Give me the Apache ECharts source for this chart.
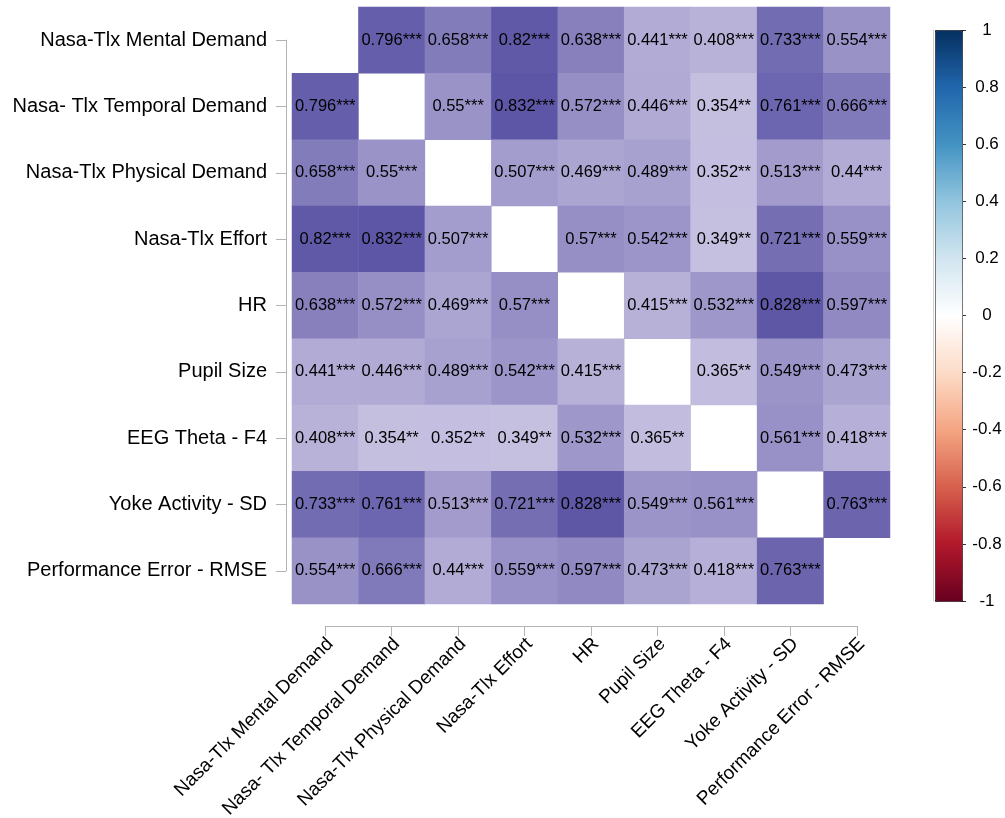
<!DOCTYPE html>
<html>
<head>
<meta charset="utf-8">
<script src="https://cdn.jsdelivr.net/npm/echarts@6/dist/echarts.min.js"></script>
<style>
html,body{margin:0;padding:0;background:#fff;}
#chart{width:1005px;height:818px;}
</style>
</head>
<body>
<div id="chart"></div>
<script>
const variables = [
  'Nasa-Tlx Mental Demand',
  'Nasa- Tlx Temporal Demand',
  'Nasa-Tlx Physical Demand',
  'Nasa-Tlx Effort',
  'HR',
  'Pupil Size',
  'EEG Theta - F4',
  'Yoke Activity - SD',
  'Performance Error - RMSE'
];
// correlation matrix (null on the diagonal)
const correlations = [
  [null, 0.796, 0.658, 0.82, 0.638, 0.441, 0.408, 0.733, 0.554],
  [0.796, null, 0.55, 0.832, 0.572, 0.446, 0.354, 0.761, 0.666],
  [0.658, 0.55, null, 0.507, 0.469, 0.489, 0.352, 0.513, 0.44],
  [0.82, 0.832, 0.507, null, 0.57, 0.542, 0.349, 0.721, 0.559],
  [0.638, 0.572, 0.469, 0.57, null, 0.415, 0.532, 0.828, 0.597],
  [0.441, 0.446, 0.489, 0.542, 0.415, null, 0.365, 0.549, 0.473],
  [0.408, 0.354, 0.352, 0.349, 0.532, 0.365, null, 0.561, 0.418],
  [0.733, 0.761, 0.513, 0.721, 0.828, 0.549, 0.561, null, 0.763],
  [0.554, 0.666, 0.44, 0.559, 0.597, 0.473, 0.418, 0.763, null]
];
// number of significance stars per cell
const significance = [
  [0, 3, 3, 3, 3, 3, 3, 3, 3],
  [3, 0, 3, 3, 3, 3, 2, 3, 3],
  [3, 3, 0, 3, 3, 3, 2, 3, 3],
  [3, 3, 3, 0, 3, 3, 2, 3, 3],
  [3, 3, 3, 3, 0, 3, 3, 3, 3],
  [3, 3, 3, 3, 3, 0, 2, 3, 3],
  [3, 2, 2, 2, 3, 2, 0, 3, 3],
  [3, 3, 3, 3, 3, 3, 3, 0, 3],
  [3, 3, 3, 3, 3, 3, 3, 3, 0]
];
const colorbarTicks = [-1, -0.8, -0.6, -0.4, -0.2, 0, 0.2, 0.4, 0.6, 0.8, 1];
const rdbu = ['#67001F', '#B2182B', '#D6604D', '#F4A582', '#FDDBC7', '#FFFFFF',
              '#D1E5F0', '#92C5DE', '#4393C3', '#2166AC', '#053061'];

const heatData = [];
for (let i = 0; i < variables.length; i++) {
  for (let j = 0; j < variables.length; j++) {
    if (correlations[i][j] !== null) {
      heatData.push([j, i, correlations[i][j], significance[i][j]]);
    }
  }
}

const G = {left: 292, top: 7, width: 598, height: 597};
const n = variables.length;
const cw = G.width / n, ch = G.height / n;
const axisGray = '#b3b3b3';
const FONT = 'Liberation Sans, Arial, Helvetica, sans-serif';
const gridBase = {outerBoundsMode: 'none', containLabel: false};

const chart = echarts.init(document.getElementById('chart'));
chart.setOption({
  animation: false,
  backgroundColor: '#fff',
  textStyle: {fontFamily: FONT},
  grid: [
    Object.assign({left: G.left, top: G.top, width: G.width, height: G.height}, gridBase),
    Object.assign({left: 935, top: 30, width: 27, height: 571}, gridBase),
    Object.assign({left: G.left + cw / 2, top: G.top, width: G.width - cw, height: G.height}, gridBase),
    Object.assign({left: G.left, top: G.top + ch / 2, width: G.width, height: G.height - ch}, gridBase),
    Object.assign({left: G.left + 5, top: G.top, width: G.width, height: G.height}, gridBase)
  ],
  xAxis: [
    {gridIndex: 0, type: 'category', data: variables, show: false},
    {gridIndex: 1, type: 'value', show: false, min: 0, max: 1},
    {
      gridIndex: 2, type: 'value', min: 0, max: n - 1, interval: 1, position: 'bottom', offset: 22,
      axisLine: {show: true, onZero: false, lineStyle: {color: axisGray, width: 1}},
      axisTick: {show: true, length: 10, lineStyle: {color: axisGray}},
      axisLabel: {show: false}, splitLine: {show: false}
    },
    {gridIndex: 3, type: 'value', show: false, min: 0, max: 1},
    {
      gridIndex: 4, type: 'category', data: variables, position: 'bottom', offset: 22,
      axisLine: {show: false}, axisTick: {show: false}, splitLine: {show: false},
      axisLabel: {rotate: 45, fontSize: 19, color: '#000', margin: 15, interval: 0, fontFamily: FONT}
    }
  ],
  yAxis: [
    {
      gridIndex: 0, type: 'category', data: variables, inverse: true, offset: 6,
      axisLine: {show: false}, axisTick: {show: false}, splitLine: {show: false},
      axisLabel: {fontSize: 20, color: '#000', margin: 19, interval: 0, fontFamily: FONT}
    },
    {
      gridIndex: 1, type: 'value', min: -1, max: 1, interval: 0.2, position: 'right',
      axisLine: {show: false, onZero: false},
      axisTick: {show: true, length: 4, inside: false, lineStyle: {color: '#333'}},
      splitLine: {show: false},
      axisLabel: {
        fontSize: 17, color: '#000', align: 'center', margin: 25, fontFamily: FONT,
        formatter: v => {
          const t = colorbarTicks.find(c => Math.abs(c - v) < 1e-6);
          return t === undefined ? '' : String(t);
        }
      }
    },
    {gridIndex: 2, type: 'value', show: false, min: 0, max: 1},
    {
      gridIndex: 3, type: 'value', min: 0, max: n - 1, interval: 1, position: 'left', offset: 6,
      axisLine: {show: true, onZero: false, lineStyle: {color: axisGray, width: 1}},
      axisTick: {show: true, length: 10, lineStyle: {color: axisGray}},
      axisLabel: {show: false}, splitLine: {show: false}
    },
    {
      gridIndex: 1, type: 'value', min: -1, max: 1, position: 'left', offset: 2,
      axisLine: {show: true, onZero: false, lineStyle: {color: '#d0d0d0', width: 1}},
      axisTick: {show: false}, axisLabel: {show: false}, splitLine: {show: false}
    },
    {gridIndex: 4, type: 'value', show: false, min: 0, max: 1}
  ],
  visualMap: [
    {
      type: 'continuous', seriesIndex: 0, dimension: 2, show: false,
      min: 0.349, max: 0.832,
      inRange: {color: ['#c5bfe0', '#5d56a6']}
    },
    {
      type: 'continuous', seriesIndex: 1, show: true, min: -1, max: 1,
      orient: 'vertical', left: 935, top: 30, itemWidth: 27, itemHeight: 571,
      padding: 0, borderColor: '#222', borderWidth: 1,
      calculable: false, hoverLink: false, showLabel: false,
      inRange: {color: rdbu}
    }
  ],
  series: [
    {
      type: 'heatmap', xAxisIndex: 0, yAxisIndex: 0, data: heatData,
      label: {
        show: true, fontSize: 16.5, color: '#000', fontFamily: FONT,
        formatter: p => p.value[2] + '*'.repeat(p.value[3])
      },
      itemStyle: {borderWidth: 0},
      emphasis: {disabled: true}
    },
    {type: 'scatter', xAxisIndex: 1, yAxisIndex: 1, data: [], symbolSize: 0}
  ]
});
</script>
</body>
</html>
